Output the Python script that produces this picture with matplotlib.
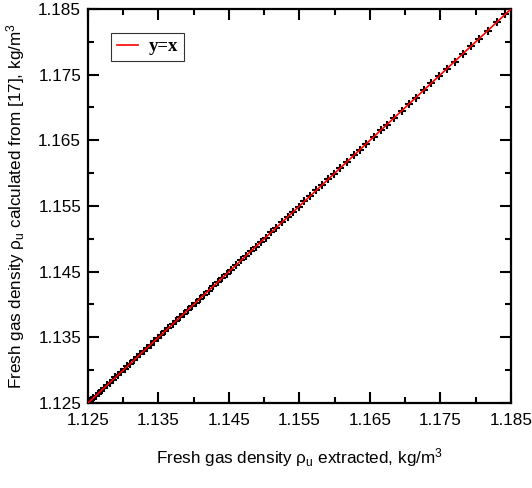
import numpy as np
import matplotlib
matplotlib.use("Agg")
import matplotlib.pyplot as plt
from matplotlib.ticker import MultipleLocator, FormatStrFormatter

plt.rcParams["font.family"] = ["Liberation Sans", "DejaVu Sans"]
plt.rcParams["mathtext.fontset"] = "custom"
plt.rcParams["mathtext.rm"] = "Liberation Sans"
plt.rcParams["mathtext.it"] = "Liberation Sans"

# fresh gas density, extracted (x) and computed from [17] (y), kg/m^3
rho_extracted = [
    1.1250, 1.1254, 1.1257, 1.1261, 1.1265, 1.1269, 1.1273, 1.1277, 1.1281,
    1.1285, 1.1289, 1.1293, 1.1297, 1.1302, 1.1306, 1.1310, 1.1315, 1.1320,
    1.1324, 1.1329, 1.1334, 1.1339, 1.1344, 1.1349, 1.1354, 1.1359, 1.1364,
    1.1370, 1.1375, 1.1381, 1.1386, 1.1392, 1.1398, 1.1403, 1.1409, 1.1415,
    1.1421, 1.1428, 1.1434, 1.1440, 1.1447, 1.1453, 1.1460, 1.1467, 1.1474,
    1.1481, 1.1488, 1.1495, 1.1502, 1.1510, 1.1517, 1.1525, 1.1533, 1.1541,
    1.1549, 1.1557, 1.1565, 1.1574, 1.1582, 1.1591, 1.1599, 1.1608, 1.1617,
    1.1627, 1.1636, 1.1645, 1.1655, 1.1665, 1.1674, 1.1684, 1.1695, 1.1705,
    1.1715, 1.1726, 1.1737, 1.1748, 1.1759, 1.1770, 1.1782, 1.1793, 1.1805,
    1.1817, 1.1830, 1.1842,
]
rho_calculated = list(rho_extracted)

line_xy = [1.125, 1.185]
tick_step = 0.01

fig = plt.figure(figsize=(5.32, 4.88), dpi=100)
ax = fig.add_axes([0.1654, 0.1742, 0.7951, 0.8074])

ax.plot(rho_extracted, rho_calculated, linestyle="none", marker="+",
        color="black", markersize=5.5, markeredgewidth=1.5, zorder=2)
ax.plot(line_xy, line_xy, color="red", linewidth=1.2, label="y=x", zorder=3)

ax.set_xlim(1.125, 1.185)
ax.set_ylim(1.125, 1.185)
for axis in (ax.xaxis, ax.yaxis):
    axis.set_major_locator(MultipleLocator(tick_step))
    axis.set_minor_locator(MultipleLocator(tick_step / 2))
    axis.set_major_formatter(FormatStrFormatter("%.3f"))
ax.set_xticks(np.arange(1.125, 1.1851, tick_step))
ax.set_yticks(np.arange(1.125, 1.1851, tick_step))

ax.tick_params(which="both", direction="in", top=True, right=True,
               width=1.5, labelsize=12.3)
ax.tick_params(axis="x", pad=7)
ax.tick_params(axis="y", pad=5)
ax.tick_params(which="major", length=8)
ax.tick_params(which="minor", length=4)
for s in ax.spines.values():
    s.set_linewidth(1.6)

ax.set_xlabel(r"Fresh gas density $\rho_u$ extracted, kg/m$^3$", fontsize=12.3, labelpad=13)
ax.set_ylabel(r"Fresh gas density $\rho_u$ calculated from [17], kg/m$^3$", fontsize=12.3, labelpad=8)

leg = ax.legend(loc="upper left", bbox_to_anchor=(0.055, 0.94), frameon=True,
                fancybox=False, edgecolor="black", handlelength=1.1,
                borderpad=0.3, handletextpad=0.6, borderaxespad=0,
                prop={"family": "Liberation Serif", "weight": "bold", "size": 13.5})
leg.get_frame().set_linewidth(0.8)

fig.savefig("out.png", dpi=100)
